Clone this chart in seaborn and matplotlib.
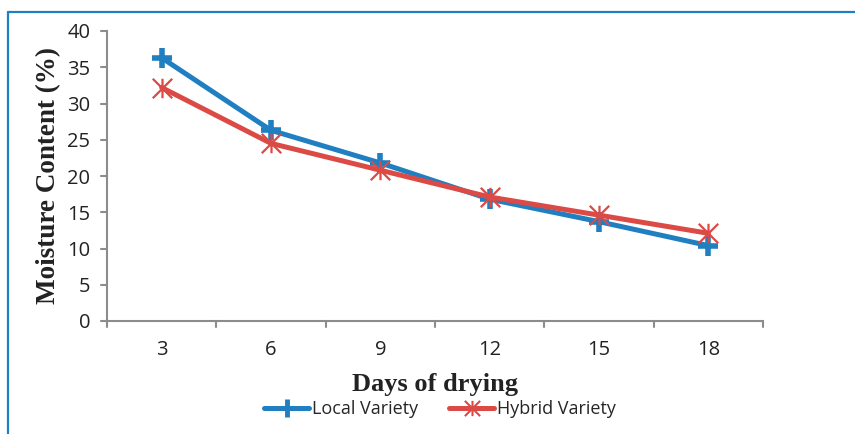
import matplotlib
matplotlib.use("Agg")
import matplotlib.pyplot as plt
from matplotlib.lines import Line2D
from matplotlib.path import Path
import seaborn as sns
import pandas as pd

days = ["3", "6", "9", "12", "15", "18"]
local_variety = [36.3, 26.3, 21.8, 16.8, 13.7, 10.4]
hybrid_variety = [32.2, 24.5, 20.8, 17.1, 14.6, 12.1]
y_ticks = [0, 5, 10, 15, 20, 25, 30, 35, 40]

sns.set_theme(style="white")
plt.rcParams["font.family"] = ["Open Sans", "DejaVu Sans"]

blue = "#1f7fc1"
red = "#dc4a45"
grey = "#8c8c8c"

# star marker: an "x" crossed by a vertical stroke
star = Path(
    [(-1, -1), (1, 1), (-1, 1), (1, -1), (0, -1), (0, 1)],
    [Path.MOVETO, Path.LINETO, Path.MOVETO, Path.LINETO, Path.MOVETO, Path.LINETO],
)

pos = list(range(len(days)))
local_df = pd.DataFrame({"pos": pos, "moisture": local_variety})
hybrid_df = pd.DataFrame({"pos": pos, "moisture": hybrid_variety})

fig = plt.figure(figsize=(8.55, 4.34), dpi=100)
ax = fig.add_axes([107 / 855, 1 - 321 / 434, (763 - 107) / 855, (321 - 31) / 434])

sns.lineplot(data=local_df, x="pos", y="moisture", color=blue, linewidth=3.6,
             marker="+", markersize=15, markeredgewidth=4, markeredgecolor=blue,
             ax=ax, label="Local Variety", legend=False)
sns.lineplot(data=hybrid_df, x="pos", y="moisture", color=red, linewidth=3.6,
             marker=star, markersize=14, markeredgewidth=1.6, markeredgecolor=red,
             markerfacecolor="none", ax=ax, label="Hybrid Variety", legend=False)

ax.set_xlim(-0.5, len(days) - 0.5)
ax.set_ylim(0, 40)
ax.set_yticks(y_ticks)
ax.set_yticklabels([str(v) for v in y_ticks], fontsize=14.5, color="#222222")
ax.set_xticks(pos)
ax.set_xticklabels(days, fontsize=14.5, color="#222222")
ax.tick_params(axis="x", length=0, pad=14)
ax.tick_params(axis="y", length=0, pad=12)

# category boundary ticks along the x axis
for b in range(len(days) + 1):
    ax.plot([b - 0.5, b - 0.5], [0, -0.85], color=grey, lw=1.5, clip_on=False)
# y-axis outer ticks
for v in y_ticks:
    ax.plot([-0.5, -0.555], [v, v], color=grey, lw=1.5, clip_on=False)

for s in ["top", "right"]:
    ax.spines[s].set_visible(False)
for s in ["left", "bottom"]:
    ax.spines[s].set_color(grey)
    ax.spines[s].set_linewidth(1.5)

ax.set_xlabel("Days of drying", fontsize=19, fontweight="bold",
              family="Liberation Serif", color="#222222")
ax.set_ylabel("Moisture Content (%)", fontsize=19.5, fontweight="bold",
              family="Liberation Serif", color="#222222")
ax.xaxis.set_label_coords(0.5, -0.18)
ax.yaxis.set_label_coords(-0.07, 0.5)

handles = [
    Line2D([], [], color=blue, lw=3.6, marker="+", markersize=13, markeredgewidth=3.5),
    Line2D([], [], color=red, lw=3.6, marker=star, markersize=11, markeredgewidth=1.5,
           markerfacecolor="none"),
]
fig.legend(handles, ["Local Variety", "Hybrid Variety"], loc="center",
           bbox_to_anchor=(440 / 855, 1 - 409 / 434), ncol=2, frameon=False,
           fontsize=13, handlelength=2.5, handletextpad=0.15, columnspacing=1.7,
           borderpad=0.1)

# outer chart frame
fig.add_artist(Line2D([8 / 855, 8 / 855], [0, 1 - 12 / 434], color=blue, lw=1.6,
                      transform=fig.transFigure))
fig.add_artist(Line2D([8 / 855, 1], [1 - 12 / 434, 1 - 12 / 434], color=blue, lw=1.6,
                      transform=fig.transFigure))

fig.savefig("out.png", dpi=100)
